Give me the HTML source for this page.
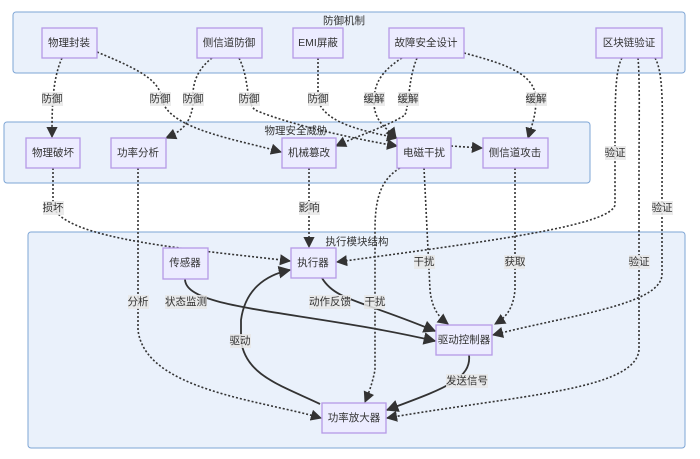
<!DOCTYPE html>
<html><head><meta charset="utf-8"><style>
html,body{margin:0;padding:0;background:#fff;}
svg{display:block;font-family:"Liberation Sans","Noto Sans CJK SC",sans-serif;}
.cl{fill:#eaf1fb;stroke:#7ea6d6;stroke-width:1;}
.nd{fill:#ececff;stroke:#b59ae6;stroke-width:1.3;}
.t{font-size:10.5px;fill:#333;text-anchor:middle;dominant-baseline:central;}
.d{fill:none;stroke:#333;stroke-width:1.6;stroke-dasharray:2 2;}
.s{fill:none;stroke:#333;stroke-width:1.8;}
.lb{fill:#e8e8e8;opacity:.85;}
</style></head><body>
<svg width="700" height="459" viewBox="0 0 700 459">
<defs><marker id="a" viewBox="0 0 10 10" refX="9" refY="5" markerWidth="7" markerHeight="7" orient="auto"><path d="M0,0L10,5L0,10z" fill="#333"/></marker></defs>
<rect class="cl" x="13" y="12" width="672" height="61" rx="3"/>
<rect class="cl" x="4" y="122" width="586" height="61" rx="3"/>
<rect class="cl" x="28" y="232" width="657" height="216" rx="3"/>
<text class="t" x="344" y="21">防御机制</text>
<text class="t" x="296" y="131">物理安全威胁</text>
<text class="t" x="357" y="242">执行模块结构</text>

<g marker-end="url(#a)">
<path class="d" d="M62,58 C52,80 52,110 52,137"/>
<path class="d" d="M97,52 C140,70 160,80 162,100 C170,130 240,140 281,152"/>
<path class="d" d="M212,58 C190,75 193,95 193,105 C190,125 180,132 166,138"/>
<path class="d" d="M239,58 C250,80 245,100 255,110 C290,125 360,140 397,146"/>
<path class="d" d="M318,58 L318,100 C325,125 370,132 397,138"/>
<path class="d" d="M402,58 C375,75 374,90 374,105 C376,125 390,130 396,138"/>
<path class="d" d="M417,58 C408,80 410,100 405,115 C390,125 360,135 336,146"/>
<path class="d" d="M464,53 C510,65 535,75 536,99 C536,115 532,125 528,138"/>
<path class="d" d="M451,146 L482,148"/>
<path class="d" d="M622,58 C615,70 615,100 615,150 L615,205 C610,225 500,240 337,262"/>
<path class="d" d="M638,58 C640,80 639,120 639,180 L639,350 C635,390 520,395 387,418"/>
<path class="d" d="M655,58 C665,75 662,120 662,200 L662,275 C660,305 570,315 493,335"/>
<path class="d" d="M53,168 L53,205 C60,240 200,250 290,261"/>
<path class="d" d="M138,168 L138,330 C145,390 260,400 321,418"/>
<path class="d" d="M309,168 L309,247"/>
<path class="d" d="M400,168 C380,180 375,200 375,230 L375,370 C372,385 368,395 365,402"/>
<path class="d" d="M424,168 L430,290 C432,310 440,318 448,324"/>
<path class="d" d="M515,168 L515,290 C513,310 505,318 495,324"/>
<path class="s" d="M185,279 C185,310 300,310 435,341"/>
<path class="s" d="M322,278 C335,300 360,300 435,331"/>
<path class="s" d="M469,355 C472,380 440,390 387,410"/>
<path class="s" d="M320,404 C280,385 245,375 241,340 L241,320 C245,290 265,275 290,270"/>
</g>

<g class="lb">
<rect x="42" y="92" width="21" height="14"/><rect x="150" y="92" width="21" height="14"/>
<rect x="183" y="92" width="21" height="14"/><rect x="239" y="92" width="21" height="14"/>
<rect x="308" y="92" width="21" height="14"/><rect x="364" y="92" width="21" height="14"/>
<rect x="398" y="92" width="21" height="14"/><rect x="526" y="92" width="21" height="14"/>
<rect x="605" y="146" width="21" height="14"/><rect x="652" y="201" width="21" height="14"/>
<rect x="629" y="255" width="21" height="14"/><rect x="43" y="201" width="21" height="14"/>
<rect x="299" y="201" width="21" height="14"/><rect x="414" y="255" width="21" height="14"/>
<rect x="504" y="255" width="21" height="14"/><rect x="128" y="295" width="21" height="14"/>
<rect x="165" y="295" width="42" height="14"/><rect x="309" y="295" width="42" height="14"/>
<rect x="364" y="295" width="21" height="14"/><rect x="230" y="334" width="21" height="14"/>
<rect x="446" y="374" width="42" height="14"/>
</g>
<g class="t">
<text x="52" y="99">防御</text><text x="160" y="99">防御</text><text x="193" y="99">防御</text>
<text x="249" y="99">防御</text><text x="318" y="99">防御</text><text x="374" y="99">缓解</text>
<text x="408" y="99">缓解</text><text x="536" y="99">缓解</text><text x="615" y="153">验证</text>
<text x="662" y="208">验证</text><text x="639" y="262">验证</text><text x="53" y="208">损坏</text>
<text x="309" y="208">影响</text><text x="424" y="262">干扰</text><text x="515" y="262">获取</text>
<text x="138" y="302">分析</text><text x="186" y="302">状态监测</text><text x="330" y="302">动作反馈</text>
<text x="375" y="302">干扰</text><text x="240" y="341">驱动</text><text x="467" y="381">发送信号</text>
</g>

<g>
<rect class="nd" x="42" y="28" width="55" height="30"/>
<rect class="nd" x="197" y="28" width="65" height="30"/>
<rect class="nd" x="293" y="28" width="50" height="30"/>
<rect class="nd" x="389" y="28" width="75" height="30"/>
<rect class="nd" x="596" y="28" width="66" height="30"/>
<rect class="nd" x="26" y="138" width="54" height="30"/>
<rect class="nd" x="111" y="138" width="55" height="30"/>
<rect class="nd" x="282" y="138" width="54" height="30"/>
<rect class="nd" x="397" y="138" width="54" height="30"/>
<rect class="nd" x="483" y="138" width="65" height="30"/>
<rect class="nd" x="163" y="248" width="45" height="31"/>
<rect class="nd" x="291" y="248" width="45" height="30"/>
<rect class="nd" x="436" y="325" width="56" height="30"/>
<rect class="nd" x="322" y="403" width="64" height="30"/>
</g>
<g class="t">
<text x="69" y="43">物理封装</text><text x="229" y="43">侧信道防御</text><text x="318" y="43">EMI屏蔽</text>
<text x="426" y="43">故障安全设计</text><text x="629" y="43">区块链验证</text>
<text x="53" y="153">物理破坏</text><text x="138" y="153">功率分析</text><text x="309" y="153">机械篡改</text>
<text x="424" y="153">电磁干扰</text><text x="515" y="153">侧信道攻击</text>
<text x="185" y="263">传感器</text><text x="313" y="263">执行器</text>
<text x="464" y="340">驱动控制器</text><text x="354" y="418">功率放大器</text>
</g>
</svg>
</body></html>
